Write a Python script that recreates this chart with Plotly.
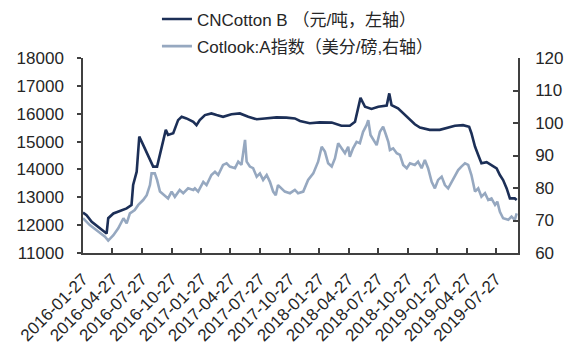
import plotly.graph_objects as go

# CNCotton B price index (CNY/ton, left axis)
cn_dates = [
    "2016-01-27", "2016-02-07", "2016-02-23", "2016-03-14", "2016-04-04", "2016-04-09",
    "2016-04-14", "2016-04-30", "2016-05-20", "2016-06-10", "2016-06-25", "2016-06-30",
    "2016-07-11", "2016-07-19", "2016-07-31", "2016-08-16", "2016-08-31", "2016-09-12",
    "2016-09-21", "2016-10-01", "2016-10-09", "2016-10-16", "2016-11-01", "2016-11-16",
    "2016-11-27", "2016-12-12", "2017-01-02", "2017-01-12", "2017-01-22", "2017-02-07",
    "2017-02-27", "2017-03-15", "2017-04-04", "2017-04-30", "2017-05-26", "2017-06-21",
    "2017-07-17", "2017-08-11", "2017-09-16", "2017-10-17", "2017-11-12", "2017-11-28",
    "2017-12-13", "2017-12-28", "2018-01-28", "2018-03-06", "2018-04-05", "2018-05-01",
    "2018-05-17", "2018-05-30", "2018-06-03", "2018-06-17", "2018-07-07", "2018-07-28",
    "2018-08-23", "2018-08-31", "2018-09-07", "2018-09-27", "2018-10-18", "2018-11-08",
    "2018-11-18", "2018-12-04", "2019-01-03", "2019-02-03", "2019-02-24", "2019-03-22",
    "2019-04-16", "2019-05-05", "2019-05-12", "2019-05-23", "2019-06-02", "2019-06-12",
    "2019-06-28", "2019-07-13", "2019-07-29", "2019-08-08", "2019-08-18", "2019-08-29",
    "2019-09-08", "2019-09-23", "2019-09-29",
]
cn_values = [
    12450, 12360, 12120, 11940, 11770, 11700,
    12250, 12420, 12510, 12600, 12720, 13440,
    13920, 15180, 14880, 14460, 14100, 14100,
    14520, 15000, 15420, 15240, 15300, 15770,
    15890, 15830, 15710, 15590, 15770, 15950,
    16010, 15950, 15890, 15980, 16010, 15890,
    15800, 15830, 15870, 15860, 15830, 15740,
    15690, 15660, 15690, 15680, 15570, 15570,
    15710, 16310, 16570, 16250, 16170, 16250,
    16290, 16730, 16310, 16190, 15950, 15710,
    15620, 15500, 15420, 15420, 15480, 15570,
    15590, 15530, 15300, 14820, 14520, 14220,
    14260, 14160, 14040, 13800, 13620, 13320,
    12960, 12960, 12900,
]

# Cotlook A index (US cents/lb, right axis)
cot_dates = [
    "2016-01-27", "2016-02-17", "2016-03-14", "2016-04-04", "2016-04-14", "2016-04-30",
    "2016-05-15", "2016-05-31", "2016-06-10", "2016-06-20", "2016-07-05", "2016-07-16",
    "2016-07-31", "2016-08-11", "2016-08-21", "2016-08-26", "2016-09-05", "2016-09-12",
    "2016-09-21", "2016-10-06", "2016-10-16", "2016-10-27", "2016-11-06", "2016-11-21",
    "2016-12-02", "2016-12-17", "2017-01-02", "2017-01-07", "2017-01-17", "2017-02-02",
    "2017-02-12", "2017-02-27", "2017-03-10", "2017-03-20", "2017-04-04", "2017-04-15",
    "2017-04-25", "2017-05-11", "2017-05-21", "2017-05-31", "2017-06-11", "2017-06-16",
    "2017-06-26", "2017-07-06", "2017-07-17", "2017-07-27", "2017-08-06", "2017-08-17",
    "2017-08-27", "2017-09-06", "2017-09-14", "2017-09-21", "2017-10-02", "2017-10-12",
    "2017-10-28", "2017-11-12", "2017-11-22", "2017-12-08", "2017-12-23", "2018-01-08",
    "2018-01-23", "2018-02-03", "2018-02-13", "2018-02-23", "2018-03-06", "2018-03-16",
    "2018-03-26", "2018-04-05", "2018-04-16", "2018-04-26", "2018-05-01", "2018-05-11",
    "2018-05-22", "2018-06-01", "2018-06-11", "2018-06-22", "2018-06-27", "2018-07-04",
    "2018-07-12", "2018-07-23", "2018-08-02", "2018-08-12", "2018-08-21", "2018-08-28",
    "2018-09-02", "2018-09-12", "2018-09-23", "2018-10-03", "2018-10-13", "2018-10-24",
    "2018-11-03", "2018-11-18", "2018-11-28", "2018-12-09", "2018-12-19", "2018-12-29",
    "2019-01-09", "2019-01-19", "2019-01-29", "2019-02-09", "2019-02-19", "2019-03-01",
    "2019-03-12", "2019-03-22", "2019-04-01", "2019-04-11", "2019-04-22", "2019-05-02",
    "2019-05-12", "2019-05-23", "2019-06-02", "2019-06-12", "2019-06-23", "2019-07-03",
    "2019-07-13", "2019-07-24", "2019-07-31", "2019-08-08", "2019-08-18", "2019-09-03",
    "2019-09-13", "2019-09-23", "2019-09-29",
]
cot_values = [
    70.7, 68.6, 66.6, 65.0, 63.8, 65.5,
    67.6, 70.7, 69.1, 72.2, 73.2, 74.8,
    76.3, 77.8, 80.9, 84.5, 84.5, 82.5,
    78.9, 77.8, 76.8, 78.9, 77.3, 79.4,
    78.4, 79.9, 79.4, 79.9, 78.9, 81.9,
    80.9, 84.0, 85.0, 84.0, 87.1, 87.6,
    86.6, 86.1, 88.1, 87.1, 94.8, 88.1,
    86.6, 86.1, 83.5, 84.5, 82.5, 84.0,
    81.9, 78.9, 77.8, 80.9, 79.9, 78.9,
    78.4, 79.4, 78.4, 78.9, 82.5, 84.5,
    88.1, 92.7, 91.2, 87.6, 86.6, 89.1,
    93.8, 92.2, 90.7, 92.7, 89.6, 92.2,
    94.2, 93.8, 97.3, 99.4, 100.9, 96.3,
    94.8, 93.2, 97.3, 98.9, 96.3, 94.2,
    91.7, 92.2, 90.7, 90.2, 87.1, 86.1,
    87.6, 87.1, 88.1, 86.1, 88.6, 86.1,
    81.9, 79.9, 82.5, 83.5, 80.9, 79.9,
    81.9, 83.5, 85.5, 86.6, 87.6, 87.1,
    84.0, 78.9, 79.9, 77.3, 78.4, 76.3,
    76.8, 74.8, 75.8, 72.7, 70.7, 70.2,
    71.2, 70.2, 72.2,
]

# Quarterly date ticks on the x axis
tick_dates = [
    "2016-01-27", "2016-04-27", "2016-07-27", "2016-10-27",
    "2017-01-27", "2017-04-27", "2017-07-27", "2017-10-27",
    "2018-01-27", "2018-04-27", "2018-07-27", "2018-10-27",
    "2019-01-27", "2019-04-27", "2019-07-27",
]

name_cn = "CNCotton B （元/吨，左轴）"
name_cot = "Cotlook:A指数（美分/磅,右轴）"

DARK = "#1c2f57"
LIGHT = "#96a8c0"
AXIS = "#404040"
FONT = "Liberation Sans, Arial, Noto Sans CJK SC, sans-serif"

fig = go.Figure()
fig.add_trace(go.Scatter(
    x=cn_dates, y=cn_values, name=name_cn, mode="lines", legendgroup="cn",
    line=dict(color=DARK, width=2.6), yaxis="y",
))
fig.add_trace(go.Scatter(
    x=cot_dates, y=cot_values, name=name_cot, mode="lines", legendgroup="cot",
    line=dict(color=LIGHT, width=2.6), yaxis="y2",
))

fig.update_layout(
    width=569, height=347,
    margin=dict(l=83, r=51, t=58, b=94, autoexpand=False),
    paper_bgcolor="white", plot_bgcolor="white",
    font=dict(family=FONT, size=16, color="#262626"),
    showlegend=True,
    legend=dict(
        x=0.17, y=1.29, xanchor="left", yanchor="top",
        orientation="v", bgcolor="rgba(0,0,0,0)",
        font=dict(size=17, color="#262626"),
        tracegroupgap=2,
    ),
    xaxis=dict(
        type="date",
        range=["2016-01-27", "2019-10-03"],
        tickvals=tick_dates, ticktext=tick_dates,
        tickangle=-45,
        ticks="inside", ticklen=5, tickwidth=1.5, tickcolor=AXIS,
        showline=True, linecolor=AXIS, linewidth=1.5,
        showgrid=False, zeroline=False,
        tickfont=dict(size=17),
        ticklabelstandoff=8,
    ),
    yaxis=dict(
        range=[11000, 18000], dtick=1000, tickformat="d",
        ticks="outside", ticklen=4, tickwidth=1.5, tickcolor=AXIS,
        showline=True, linecolor=AXIS, linewidth=1.5,
        showgrid=False, zeroline=False,
        tickfont=dict(size=17),
        ticklabelstandoff=10,
    ),
    yaxis2=dict(
        range=[60, 120], dtick=10,
        overlaying="y", side="right",
        ticks="inside", ticklen=5, tickwidth=1.5, tickcolor=AXIS,
        showline=True, linecolor=AXIS, linewidth=1.5,
        showgrid=False, zeroline=False,
        tickfont=dict(size=17),
        ticklabelstandoff=12,
    ),
)

fig.write_html("out.html")
